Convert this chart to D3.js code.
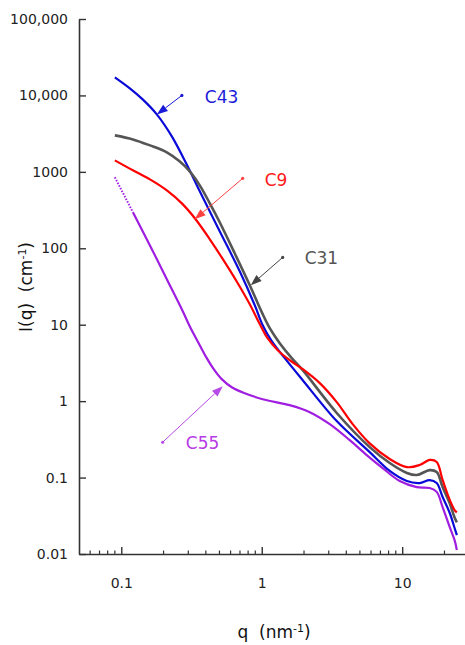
<!DOCTYPE html>
<html>
<head>
<meta charset="utf-8">
<script src="https://cdn.jsdelivr.net/npm/d3@7"></script>
<style>
  body { margin: 0; background: #fff; }
  text { font-family: "DejaVu Sans", sans-serif; }
</style>
</head>
<body>
<div id="chart"></div>
<script>
// Scattering curves, [q (nm-1), I (cm-1)]
const c43 = [[0.09,17200],[0.115,12350],[0.142,8870],[0.179,5650],[0.229,2910],[0.292,1253],[0.362,556],
  [0.502,167],[0.697,50],[0.892,18],[1.016,9.85],[1.178,6.09],[1.458,3.65],[1.958,1.88],[3.42,0.548],
  [5.87,0.215],[8.15,0.122],[10.8,0.090],[13.3,0.0848],[15.7,0.0927],[17.6,0.0848],[19.4,0.0556],
  [21.8,0.0344],[23.6,0.0219],[24.5,0.0177]];

const c31 = [[0.09,3000],[0.121,2660],[0.16,2220],[0.211,1800],[0.26,1372],[0.307,1016],[0.362,666],
  [0.427,387],[0.502,219],[0.642,86],[0.822,32.8],[1.0,14.6],[1.14,9.0],[1.343,5.73],[1.635,3.65],
  [1.958,2.54],[3.42,0.70],[5.87,0.25],[8.15,0.155],[10.8,0.115],[12.7,0.108],[15.7,0.125],[17.6,0.118],
  [19.4,0.075],[21.8,0.046],[23.6,0.030],[24.5,0.026]];

const c9 = [[0.09,1413],[0.121,1047],[0.16,798],[0.211,573],[0.27,387],[0.334,247],[0.427,131],
  [0.519,76],[0.675,34.9],[0.822,18.5],[0.968,10.2],[1.10,6.66],[1.30,4.64],[1.58,3.44],[1.958,2.62],
  [2.59,1.72],[3.42,0.97],[4.44,0.50],[5.87,0.28],[8.15,0.175],[10.8,0.137],[13.3,0.146],[15.7,0.17],
  [17.6,0.16],[19.4,0.093],[21.8,0.051],[23.6,0.0376],[24.5,0.035]];

const c55 = [[0.09,848],[0.121,296],[0.16,109],[0.211,39.3],[0.274,15.0],[0.307,9.56],[0.362,5.40],
  [0.406,3.65],[0.455,2.62],[0.519,1.94],[0.612,1.52],[0.757,1.27],[1.016,1.06],[1.58,0.887],[2.2,0.718],
  [3.05,0.50],[4.23,0.309],[5.59,0.197],[7.26,0.133],[9.6,0.090],[12.7,0.075],[15.7,0.073],[17.6,0.065],
  [19.4,0.041],[21.8,0.0225],[23.6,0.0152],[24.5,0.0113]];

const yTicks = [100000, 10000, 1000, 100, 10, 1, 0.1, 0.01];
const yTickLabels = ['100,000', '10,000', '1000', '100', '10', '1', '0.1', '0.01'];
const xTicks = [0.1, 1, 10];
const xTickLabels = ['0.1', '1', '10'];
const xMinorTicks = [0.06, 0.07, 0.08, 0.09, 0.2, 0.3, 0.4, 0.5, 0.6, 0.7, 0.8, 0.9,
  2, 3, 4, 5, 6, 7, 8, 9, 20];

// Arrow annotations: tail, tip and label anchor in data coordinates
const labels = [
  { name: 'C43', tail: [0.27, 10000], tip: [0.179, 5630], at: [0.393, 7850], color: '#1c1cd8', line: '#1a1ad8' },
  { name: 'C9',  tail: [0.732, 822],  tip: [0.333, 239],  at: [1.05, 646],   color: '#ff1a1a', line: '#ff4040' },
  { name: 'C31', tail: [1.41, 76],    tip: [0.835, 32.8], at: [2.02, 61.8],  color: '#555555', line: '#444444' },
  { name: 'C55', tail: [0.197, 0.29], tip: [0.528, 1.57], at: [0.288, 0.236], color: '#b83ae6', line: '#b84ae8' }
];

const W = 465, H = 645;

const svg = d3.select('#chart')
  .append('svg')
  .attr('width', W)
  .attr('height', H);

const x = d3.scaleLog().domain([0.05, 28]).range([79, 465]);
const y = d3.scaleLog().domain([0.01, 100000]).range([554, 19]);

// Y axis, ticks point inward
const yAxis = svg.append('g')
  .attr('transform', 'translate(79,0)')
  .call(d3.axisLeft(y)
    .tickValues(yTicks)
    .tickFormat((d, i) => yTickLabels[i])
    .tickSize(-7)
    .tickSizeOuter(0)
    .tickPadding(11));

// X axis, major + minor ticks
const xAxis = svg.append('g')
  .attr('transform', 'translate(0,554)')
  .call(d3.axisBottom(x)
    .tickValues(xTicks)
    .tickFormat((d, i) => xTickLabels[i])
    .tickSize(-7)
    .tickSizeOuter(0)
    .tickPadding(24));

svg.append('g')
  .attr('transform', 'translate(0,554)')
  .selectAll('line')
  .data(xMinorTicks)
  .enter().append('line')
  .attr('x1', d => x(d)).attr('x2', d => x(d))
  .attr('y1', 0).attr('y2', -3.5)
  .attr('stroke', '#333')
  .attr('stroke-width', 1.2);

[yAxis, xAxis].forEach(g => {
  g.select('.domain').attr('stroke', '#333').attr('stroke-width', 1.6);
  g.selectAll('.tick line').attr('stroke', '#333').attr('stroke-width', 1.4);
  g.selectAll('.tick text')
    .attr('fill', '#222')
    .style('font-size', '14px')
    .style('font-family', '"DejaVu Sans", sans-serif');
});

// Axis titles
let yTitle = svg.append('text')
  .attr('transform', 'translate(32,287) rotate(-90)')
  .attr('text-anchor', 'middle')
  .style('font-size', '17px')
  .style('white-space', 'pre')
  .attr('fill', '#111');
yTitle.append('tspan').text('I(q)  (cm');
yTitle.append('tspan').attr('baseline-shift', 'super').style('font-size', '11px').text('-1');
yTitle.append('tspan').text(')');

let xTitle = svg.append('text')
  .attr('x', 274)
  .attr('y', 638)
  .attr('text-anchor', 'middle')
  .style('font-size', '17px')
  .style('white-space', 'pre')
  .attr('fill', '#111');
xTitle.append('tspan').text('q  (nm');
xTitle.append('tspan').attr('baseline-shift', 'super').style('font-size', '11px').text('-1');
xTitle.append('tspan').text(')');

// Curves
const line = d3.line()
  .x(d => x(d[0]))
  .y(d => y(d[1]))
  .curve(d3.curveCatmullRom.alpha(0.5));

const series = [
  { data: c55.slice(1), color: '#a01ee0', width: 2.2 },
  { data: c43, color: '#0a0ad8', width: 2.2 },
  { data: c31, color: '#555555', width: 2.6 },
  { data: c9, color: '#ff0000', width: 2.2 }
];

// sparse points at the start of C55
svg.append('path')
  .attr('d', line(c55.slice(0, 2)))
  .attr('fill', 'none')
  .attr('stroke', '#a01ee0')
  .attr('stroke-width', 2)
  .attr('stroke-dasharray', '1.5,1.5');

series.forEach(s => {
  svg.append('path')
    .attr('d', line(s.data))
    .attr('fill', 'none')
    .attr('stroke', s.color)
    .attr('stroke-width', s.width)
    .attr('stroke-linejoin', 'round');
});

// Arrows with labels
labels.forEach(l => {
  let x1 = x(l.tail[0]), y1 = y(l.tail[1]),
      x2 = x(l.tip[0]), y2 = y(l.tip[1]);
  let len = Math.hypot(x2 - x1, y2 - y1),
      ux = (x2 - x1) / len, uy = (y2 - y1) / len;
  let bx = x2 - ux * 11, by = y2 - uy * 11;

  svg.append('line')
    .attr('x1', x1).attr('y1', y1)
    .attr('x2', bx).attr('y2', by)
    .attr('stroke', l.line)
    .attr('stroke-width', 1);

  svg.append('circle')
    .attr('cx', x1).attr('cy', y1).attr('r', 1.6)
    .attr('fill', l.line);

  svg.append('path')
    .attr('d', `M${x2},${y2}L${bx - uy * 4},${by + ux * 4}L${bx + uy * 4},${by - ux * 4}Z`)
    .attr('fill', l.line);

  svg.append('text')
    .attr('x', x(l.at[0]))
    .attr('y', y(l.at[1]))
    .attr('fill', l.color)
    .style('font-size', '17px')
    .text(l.name);
});
</script>
</body>
</html>
